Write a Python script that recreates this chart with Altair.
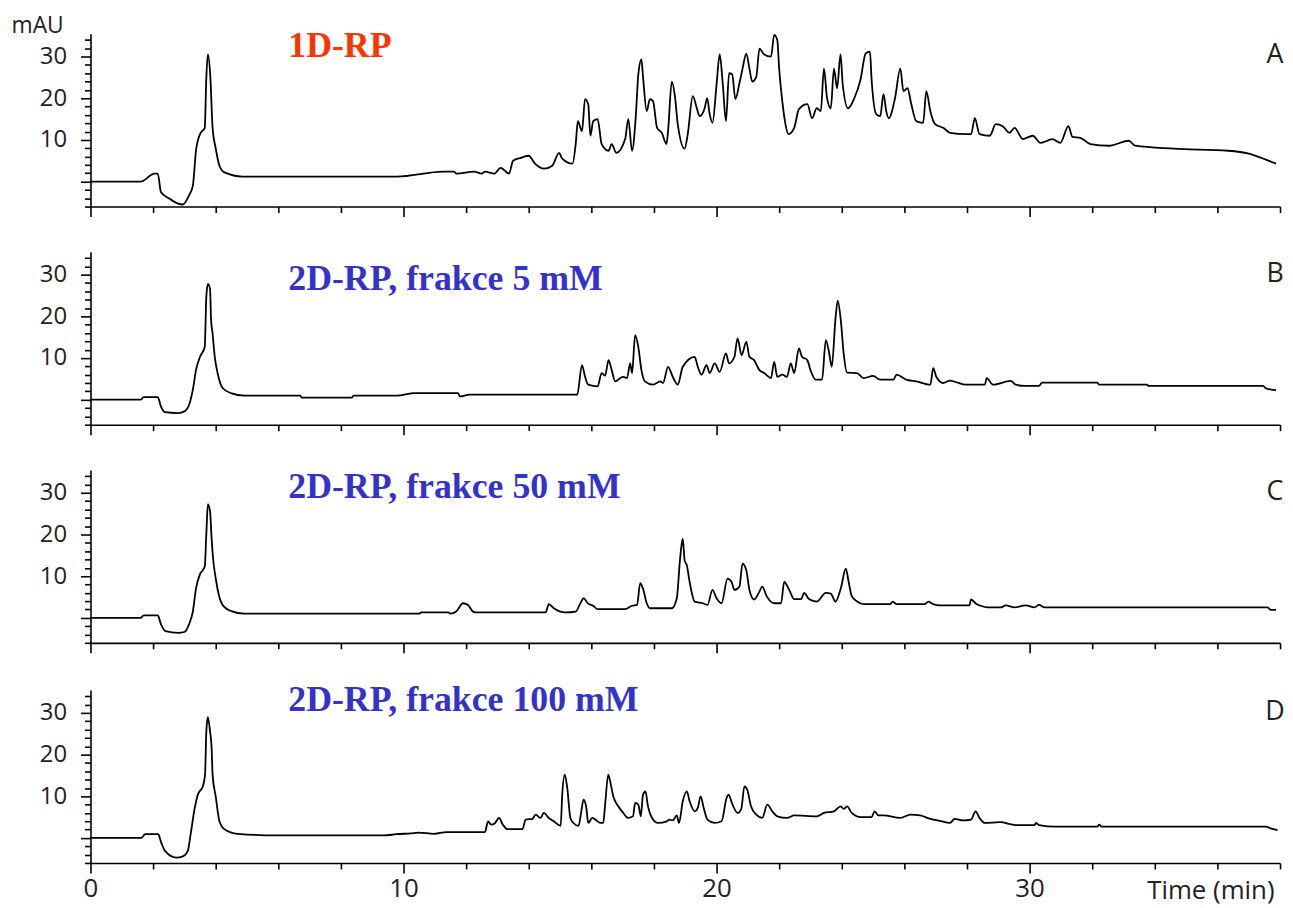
import altair as alt
import pandas as pd

# ---------------- data ----------------
t_A = [0, 1.6, 2.05, 2.15, 2.25, 2.5, 2.8, 2.95, 3.15, 3.27, 3.37, 3.5, 3.65, 3.7, 3.75, 3.83, 3.9, 4.0, 4.12, 4.28, 4.86,
       9.78, 11.27, 11.6, 11.7, 12.25, 12.5, 12.6, 12.9, 13.1, 13.37, 13.5, 13.75, 14.0, 14.2, 14.5, 14.75, 14.97, 15.07,
       15.4, 15.5, 15.57, 15.7, 15.8, 15.9, 15.97, 16.06, 16.2, 16.33, 16.55, 16.65, 16.8, 17.08, 17.18, 17.3, 17.42,
       17.5, 17.6, 17.65, 17.77, 17.87, 17.97, 18.1, 18.25, 18.4, 18.45, 18.57, 18.67, 18.76, 18.98, 19.08, 19.24,
       19.37, 19.46, 19.62, 19.7, 19.78, 19.87, 20.0, 20.1, 20.2, 20.3, 20.4, 20.5, 20.6, 20.73, 20.83, 20.95, 21.05,
       21.14, 21.27, 21.37, 21.52, 21.74, 21.84, 21.94, 22.0, 22.1, 22.2, 22.3, 22.48, 22.63, 22.9, 23.05, 23.2, 23.33,
       23.43, 23.53, 23.65, 23.75, 23.85, 23.96, 24.03, 24.2, 24.4, 24.6, 24.76, 24.9, 24.95, 25.1, 25.23, 25.33, 25.42,
       25.5, 25.7, 25.87, 25.97, 26.1, 26.22, 26.38, 26.6, 26.7, 26.83, 26.98, 27.24, 27.46, 27.97, 28.13, 28.25, 28.4,
       28.73, 28.92, 29.14, 29.36, 29.52, 29.78, 30.1, 30.35, 30.73, 30.98, 31.24, 31.37, 31.62, 31.94, 32.54, 33.17,
       33.37, 34.6, 36.35, 37.0, 37.4, 37.87]
y_A = [0, 0, 1.9, 1.9, -2.5, -4, -5.3, -5.5, -3.3, -1, 7.4, 11.4, 12.9, 24.8, 30.5, 25, 13, 8, 3.8, 2.2, 1.2,
       1.2, 2.4, 2.4, 1.9, 2.4, 1.9, 2.4, 1.9, 3.3, 1.9, 5, 5.7, 6.2, 4.3, 3.1, 3.8, 6.9, 5.5,
       4.3, 9, 14.5, 12.1, 19.8, 18.6, 11, 14.5, 15, 9, 7.4, 9, 6.9, 10.2, 15, 7.4, 15.7,
       25.7, 29.3, 25.2, 16.9, 19.8, 19.3, 12.9, 11.7, 9, 12.1, 24, 20.5, 13.8, 7.9, 11.4, 20.5,
       17.6, 15.7, 17.6, 20, 16.2, 14.1, 23.3, 30.5, 23.3, 14.5, 26, 25.7, 19.8, 23.6, 27.1, 30.7, 27.1,
       24, 25.2, 31.9, 30.5, 30, 35.2, 34, 27.1, 19.3, 13.8, 11.4, 12.9, 17.4, 18.6, 15.2, 17.6, 16.9,
       27.1, 20, 17.6, 27.1, 22.4, 30.5, 23.3, 17.6, 20, 24.5, 30.7, 31.2, 24.8, 16.2, 15.7, 21, 16.9,
       15.2, 20, 27.1, 21.7, 22.4, 18.6, 14.5, 14.1, 21.7, 16.9, 13.8, 12.9, 11.7, 11.4, 11.4, 15.2, 11.4,
       11, 13.8, 13.3, 11.7, 12.9, 10.2, 11, 9.3, 10.2, 9.3, 13.3, 10.7, 10.5, 9, 8.6, 9.8,
       8.6, 7.9, 7.4, 6.7, 5.7, 4.3]

t_B = [0, 1.6, 1.7, 2.15, 2.25, 2.38, 2.8, 3.0, 3.17, 3.27, 3.37, 3.5, 3.65, 3.7, 3.75, 3.82, 3.85, 3.9, 3.97, 4.06,
       4.22, 4.48, 4.92, 6.7, 6.75, 8.35, 8.4, 9.78, 10.36, 11.74, 11.8, 12.1, 15.55, 15.7, 15.8, 15.9, 16.2, 16.33,
       16.44, 16.55, 16.65, 16.76, 17.0, 17.14, 17.24, 17.3, 17.4, 17.5, 17.6, 17.71, 17.97, 18.2, 18.29, 18.45, 18.6,
       18.76, 18.92, 19.3, 19.4, 19.52, 19.68, 19.78, 19.94, 20.1, 20.3, 20.4, 20.57, 20.67, 20.8, 20.95, 21.05, 21.2,
       21.37, 21.52, 21.74, 21.84, 21.94, 22.1, 22.25, 22.37, 22.48, 22.63, 22.73, 22.9, 23.0, 23.17, 23.37, 23.49,
       23.59, 23.68, 23.8, 23.87, 23.97, 24.06, 24.17, 24.48, 24.7, 25.0, 25.23, 25.65, 25.75, 26.06, 26.38, 26.83,
       26.92, 27.02, 27.24, 27.46, 27.65, 27.97, 28.57, 28.63, 28.83, 29.4, 29.56, 29.87, 30.3, 30.4, 32.16, 32.22,
       33.75, 33.8, 37.46, 37.55, 37.87]
y_B = [0, 0, 0.6, 0.6, -1.6, -3.0, -3.2, -2.8, -0.8, 2.4, 7.1, 10.3, 12.7, 24.6, 27.8, 26.6, 19.5, 15.9, 10.3, 6.4,
       2.8, 1.6, 1.0, 1.0, 0.5, 0.5, 1.0, 1.0, 1.6, 1.6, 0.8, 1.2, 1.2, 8.3, 5.5, 3.6, 3.2, 6.4,
       5.8, 9.5, 7.1, 4.4, 5.5, 5.2, 8.7, 6.4, 15.5, 12.7, 7.1, 4.4, 3.6, 4.4, 4.0, 7.9, 5.5,
       3.6, 7.9, 10.3, 7.9, 6.0, 8.3, 6.4, 8.7, 6.7, 11.1, 8.7, 10.3, 14.7, 10.7, 13.9, 10.3, 9.5,
       7.1, 6.4, 5.2, 9.1, 5.5, 6.0, 5.5, 8.7, 6.4, 12.3, 10.3, 9.5, 7.1, 4.8, 4.8, 14.3,
       11.5, 7.9, 19.5, 23.8, 19.0, 11.1, 6.5, 6.4, 5.2, 5.7, 4.8, 4.8, 6.0, 4.8, 4.4, 3.6,
       7.6, 5.5, 4.0, 4.6, 4.2, 3.6, 3.6, 5.2, 3.6, 4.5, 3.6, 3.3, 3.3, 4.1, 4.1, 3.6,
       3.6, 3.3, 3.3, 2.7, 2.3]

t_C = [0, 1.6, 1.7, 2.15, 2.25, 2.4, 2.8, 3.0, 3.15, 3.27, 3.37, 3.5, 3.65, 3.7, 3.75, 3.82, 3.87, 3.92, 4.0, 4.1,
       4.25, 4.5, 4.9, 10.5, 10.57, 11.43, 11.5, 11.68, 11.9, 12.06, 12.22, 12.32, 14.54, 14.64, 14.8, 15.17, 15.5,
       15.65, 15.75, 15.9, 16.06, 16.19, 17.08, 17.3, 17.46, 17.56, 17.65, 17.77, 17.87, 18.57, 18.73, 18.83, 18.92,
       18.98, 19.05, 19.14, 19.3, 19.56, 19.71, 19.87, 20.0, 20.16, 20.35, 20.48, 20.57, 20.73, 20.83, 20.95, 21.05,
       21.2, 21.37, 21.46, 21.6, 21.84, 22.06, 22.16, 22.32, 22.48, 22.7, 22.8, 22.95, 23.2, 23.49, 23.65, 23.8,
       23.97, 24.13, 24.22, 24.32, 24.48, 24.7, 25.55, 25.63, 25.75, 26.65, 26.76, 26.92, 27.13, 28.08, 28.13, 28.3,
       28.4, 28.67, 29.08, 29.24, 29.52, 29.87, 30.16, 30.3, 30.48, 37.6, 37.71, 37.87]
y_C = [0, 0, 0.6, 0.6, -1.5, -3.2, -3.6, -3.4, -1.5, 1.5, 7, 10.5, 12.3, 20, 27.3, 25.5, 19, 14, 9.5, 5.5,
       2.8, 1.6, 1.0, 1.0, 1.3, 1.3, 1.0, 1.5, 3.5, 3.1, 1.5, 1.3, 1.3, 3.3, 2.3, 1.3, 1.5,
       3.5, 4.7, 3.4, 2.9, 2.1, 2.1, 2.9, 3.1, 8.3, 7.0, 3.5, 2.3, 2.3, 4.7, 13.8, 19.0,
       13.8, 12.6, 8.6, 3.9, 3.5, 3.1, 6.7, 4.7, 3.5, 9.4, 8.6, 6.7, 7.5, 13.0, 11.4, 6.7,
       4.4, 6.3, 7.5, 5.2, 3.5, 3.5, 8.6, 6.7, 4.5, 4.5, 6.0, 4.5, 3.9, 6.0, 5.8, 3.9,
       7.1, 11.8, 8.6, 5.2, 4.0, 3.3, 3.3, 3.9, 3.3, 3.3, 3.9, 3.3, 3.0, 3.0, 4.4, 3.3,
       3.0, 2.5, 2.5, 3.0, 2.5, 3.0, 2.5, 3.1, 2.5, 2.5, 1.9, 1.9]

t_D = [0, 1.62, 1.75, 2.16, 2.26, 2.38, 2.74, 2.95, 3.11, 3.2, 3.33, 3.43, 3.59, 3.66, 3.7, 3.75, 3.82, 3.87, 3.9,
       4.0, 4.12, 4.28, 4.7, 5.97, 9.37, 9.78, 10.4, 10.47, 10.98, 11.37, 12.6, 12.7, 12.8, 12.9, 13.05, 13.17, 13.33,
       13.8, 13.9, 14.12, 14.22, 14.38, 14.48, 14.64, 14.8, 15.02, 15.07, 15.15, 15.23, 15.33, 15.43, 15.59, 15.68,
       15.75, 15.84, 15.9, 16.03, 16.13, 16.29, 16.38, 16.44, 16.54, 16.6, 16.7, 16.86, 17.02, 17.17, 17.33, 17.4,
       17.5, 17.58, 17.65, 17.73, 17.8, 17.94, 18.13, 18.41, 18.5, 18.6, 18.73, 18.8, 18.92, 19.05, 19.14, 19.3, 19.4,
       19.49, 19.59, 19.71, 19.94, 20.16, 20.32, 20.38, 20.51, 20.67, 20.79, 20.89, 20.98, 21.1, 21.27, 21.46, 21.62,
       21.78, 21.94, 22.25, 22.48, 23.2, 23.43, 23.75, 23.96, 24.06, 24.17, 24.32, 24.6, 24.95, 25.05, 25.17, 25.33,
       25.87, 26.19, 26.5, 26.83, 27.13, 27.46, 27.6, 27.87, 28.13, 28.27, 28.4, 28.57, 29.05, 29.56, 30.16, 30.2,
       30.3, 30.83, 32.16, 32.22, 32.3, 37.55, 37.7, 37.92]
y_D = [0, 0, 0.9, 0.9, -1.1, -3.1, -4.7, -4.4, -3.1, 0.9, 7.2, 10.4, 12.4, 15.2, 25.5, 29.0, 25.5, 21.5, 15.2,
       10.0, 4.0, 2.1, 1.0, 0.6, 0.6, 0.9, 1.2, 1.3, 1.0, 1.4, 1.4, 4.0, 3.2, 3.4, 4.8, 3.2, 2.1,
       2.1, 4.4, 4.6, 5.6, 4.8, 6.0, 4.8, 4.0, 2.9, 10.4, 15.2, 12.0, 4.8, 3.6, 2.9, 6.4,
       9.2, 7.2, 3.6, 4.8, 4.4, 3.6, 3.6, 8.0, 15.2, 13.6, 10.0, 7.6, 6.0, 4.8, 5.2, 8.4,
       8.0, 5.2, 10.4, 11.2, 8.0, 4.8, 3.6, 4.0, 4.4, 4.2, 5.4, 3.6, 8.8, 11.2, 8.8, 6.4, 7.2,
       10.0, 7.2, 4.4, 3.6, 4.0, 9.6, 10.4, 8.0, 6.0, 7.0, 12.4, 11.6, 7.6, 5.6, 4.8, 8.0,
       6.4, 5.2, 4.8, 5.4, 5.2, 6.0, 6.4, 7.6, 7.0, 7.6, 6.0, 5.0, 5.0, 6.4, 5.4, 5.4,
       4.8, 5.6, 5.4, 4.6, 4.1, 3.6, 4.6, 4.2, 4.4, 6.4, 4.8, 3.6, 3.8, 3.1, 3.1, 3.6,
       3.1, 2.7, 2.7, 3.2, 2.7, 2.7, 2.3, 1.9]

panel_letters = ["A", "B", "C", "D"]
panel_titles = ["1D-RP", "2D-RP, frakce 5 mM", "2D-RP, frakce 50 mM", "2D-RP, frakce 100 mM"]
x_tick_values = list(range(0, 39, 2))
y_tick_values = list(range(-6, 35, 2))

# ---------------- styling ----------------
title_colors = ["#ff3300", "#3333cc", "#3333cc", "#3333cc"]
title_dy = [12, 27, 17, 10]
W, H = 1197, 174
X_DOMAIN = [0, 38]
Y_DOMAIN = [-6, 35.5]

series = [(t_A, y_A), (t_B, y_B), (t_C, y_C), (t_D, y_D)]
TICK_SIZE = {"condition": {"test": "datum.value % 10 === 0", "value": 10}, "value": 6}


def panel(i):
    t, y = series[i]
    df = pd.DataFrame({"t": t, "y": y})
    bottom = i == 3
    top = i == 0
    if bottom:
        xaxis = alt.Axis(values=x_tick_values, title="Time (min)",
                         labelExpr="datum.value % 10 === 0 ? datum.label : ''",
                         labelFontSize=26, labelPadding=3, labelOverlap=False, labelFlush=False,
                         tickSize=TICK_SIZE,
                         titleFontSize=26, titleFontWeight="normal", titleFont="Open Sans",
                         titleAnchor="end", titleAlign="right", titleX=W - 6, titleY=36,
                         titleBaseline="alphabetic")
    else:
        xaxis = alt.Axis(values=x_tick_values, title="", labels=False, tickSize=TICK_SIZE)
    yaxis_kw = dict(values=y_tick_values,
                    labelExpr="datum.value > 0 && datum.value % 10 === 0 ? datum.label : ''",
                    labelFontSize=24, labelPadding=14, labelOverlap=False, labelFlush=False,
                    tickSize=TICK_SIZE)
    if top:
        yaxis = alt.Axis(title="mAU", titleAngle=0, titleAlign="left", titleX=-80, titleY=-1,
                         titleBaseline="alphabetic", titleFontSize=23, titleFontWeight="normal",
                         titleFont="Open Sans", **yaxis_kw)
    else:
        yaxis = alt.Axis(title="", **yaxis_kw)

    line = alt.Chart(df).mark_line(color="black", strokeWidth=1.8, interpolate="monotone").encode(
        x=alt.X("t:Q", scale=alt.Scale(domain=X_DOMAIN, nice=False, zero=False), axis=xaxis),
        y=alt.Y("y:Q", scale=alt.Scale(domain=Y_DOMAIN, nice=False, zero=False), axis=yaxis),
    )
    lab = alt.Chart(pd.DataFrame({"label": [panel_titles[i]]})).mark_text(
        align="left", baseline="middle", font="Liberation Serif", fontWeight="bold",
        fontSize=36, color=title_colors[i]
    ).encode(x=alt.value(199), y=alt.value(title_dy[i]), text="label:N")
    let = alt.Chart(pd.DataFrame({"letter": [panel_letters[i]]})).mark_text(
        align="center", baseline="middle", font="Open Sans", fontSize=27, color="#222222"
    ).encode(x=alt.value(1192), y=alt.value(22), text="letter:N")
    return alt.layer(line, lab, let).properties(width=W, height=H)


chart = alt.vconcat(*[panel(i) for i in range(4)], spacing=27.5).properties(
    padding={"left": 3, "top": 4, "right": 0, "bottom": 0}
).configure_view(stroke=None).configure_axis(
    domainColor="black", domainWidth=1.6, tickColor="black", tickWidth=1.6,
    labelColor="#222222", labelFont="Open Sans", titleColor="#222222", grid=False
)

chart.save("out.html", embed_options={"renderer": "svg", "actions": False})
